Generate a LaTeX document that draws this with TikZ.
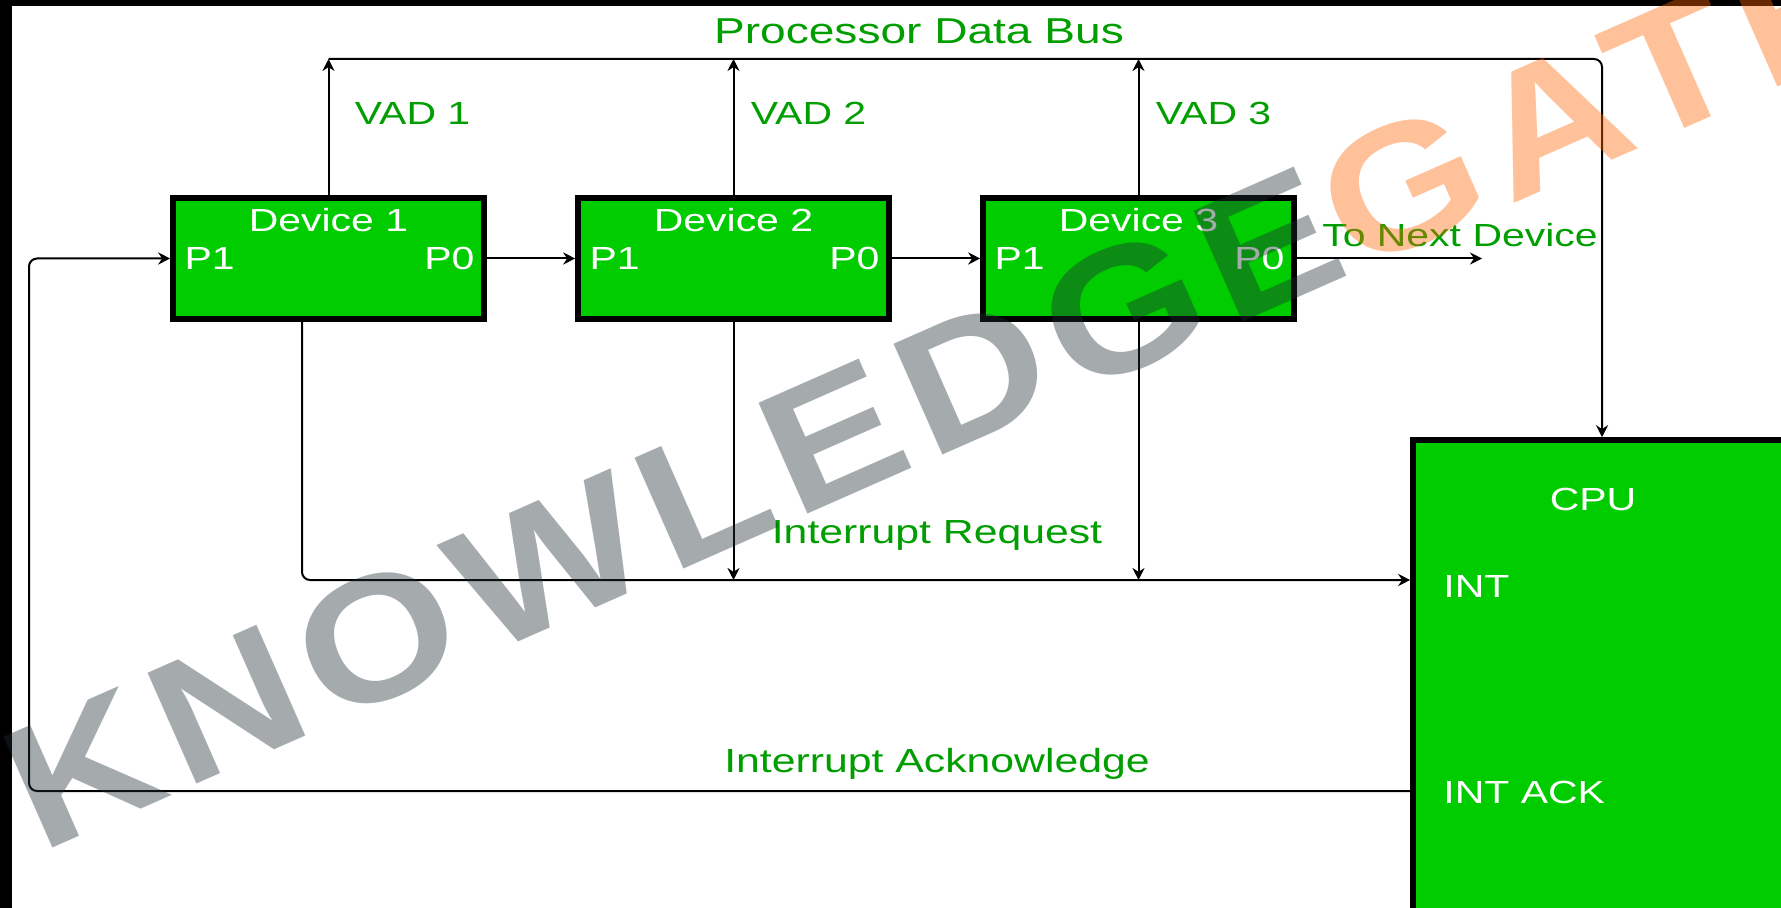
\documentclass[tikz,border=0pt]{standalone}
\usepackage{fontspec}
\setmainfont{Liberation Sans}[FakeStretch=1.28]
\newfontfamily\wmfont{Liberation Sans}[FakeStretch=1.15,LetterSpace=7]
\usetikzlibrary{arrows.meta,positioning,calc}

\definecolor{boxgreen}{RGB}{0,204,0}
\definecolor{lblgreen}{RGB}{0,158,0}
\definecolor{wmgray}{RGB}{30,45,52}
\definecolor{wmorange}{RGB}{255,102,0}

\begin{document}
\begin{tikzpicture}[x=0.5pt, y=-0.5pt,
    devbox/.style={draw=black, line width=2.8pt, fill=boxgreen, inner sep=0pt,
      minimum width=155.5pt, minimum height=60.5pt},
    cpubox/.style={draw=black, line width=2.8pt, fill=boxgreen, inner sep=0pt,
      minimum width=189pt, minimum height=255pt},
    wire/.style={draw=black, line width=1pt, -{Stealth[length=6pt,width=6pt]}},
    lbl/.style={text=lblgreen, inner sep=0pt, font=\fontsize{16}{19}\selectfont},
    biglbl/.style={lbl, font=\fontsize{16.7}{19}\selectfont},
    intxt/.style={text=white, inner sep=0pt, font=\fontsize{16}{19}\selectfont}]
    \useasboundingbox (0,0) rectangle (1781,908);
    \fill[white] (0,0) rectangle (1781,908);
    \fill[black] (0,0) rectangle (12,908);
    \fill[black] (0,0) rectangle (1781,6);

    % devices and cpu
    \node[devbox] (dev1) at (328.5,258.5) {};
    \node[devbox] (dev2) at (733.5,258.5) {};
    \node[devbox] (dev3) at (1138.5,258.5) {};
    \node[cpubox] (cpu) at (1602,695) {};

    \foreach \d in {1,2,3} {
      \node[intxt, anchor=base] (dname\d) at (dev\d.center |- 0,232) {Device \d};
      \node[intxt, anchor=base west] (pin\d) at ($(dev\d.west |- 0,270)+(14,0)$) {P1};
      \node[intxt, anchor=base east] (pout\d) at ($(dev\d.east |- 0,270)+(-12,0)$) {P0};
    }
    \node[intxt, anchor=base] (cpuname) at (1593,510) {CPU};
    \node[intxt, anchor=base west] (int) at (1443,597) {INT};
    \node[intxt, anchor=base west] (intack) at (1443,803) {INT ACK};

    % bus and vector addresses
    \coordinate (bus) at (0,59);
    \draw[wire, rounded corners=4pt] (dev1.north |- bus) -- (cpu.north |- bus) -- (cpu.north);
    \draw[wire] (dev1.north) -- (dev1.north |- bus);
    \draw[wire] (dev2.north) -- (dev2.north |- bus);
    \draw[wire] (dev3.north) -- (dev3.north |- bus);
    \node[lbl, anchor=base, font=\fontsize{18}{21}\selectfont] (busname) at (919,44) {Processor Data Bus};
    \node[lbl, anchor=base west] (vad1) at ($(dev1.north |- 0,125)+(26,0)$) {VAD 1};
    \node[lbl, anchor=base west] (vad2) at ($(dev2.north |- 0,125)+(17,0)$) {VAD 2};
    \node[lbl, anchor=base west] (vad3) at ($(dev3.north |- 0,125)+(17,0)$) {VAD 3};

    % daisy chain
    \coordinate (nxt) at (1482,258.5);
    \draw[wire] (dev1.east) -- (dev2.west);
    \draw[wire] (dev2.east) -- (dev3.west);
    \draw[wire] (dev3.east) -- (nxt);
    \node[lbl, anchor=base] (nxtname) at (1460,247) {To Next Device};

    % interrupt request
    \coordinate (irq) at (0,580);
    \draw[wire, rounded corners=4pt] ($(dev1.south)+(-26.5,0)$) -- ($(dev1.south |- irq)+(-26.5,0)$) -- (cpu.west |- irq);
    \draw[wire] (dev2.south) -- (dev2.south |- irq);
    \draw[wire] (dev3.south) -- (dev3.south |- irq);
    \node[biglbl, anchor=base] (irqname) at (937,543) {Interrupt Request};

    % interrupt acknowledge
    \coordinate (ack) at (0,791);
    \coordinate (lft) at (29,0);
    \draw[wire, rounded corners=4pt] (cpu.west |- ack) -- (lft |- ack) -- (lft |- dev1.west) -- (dev1.west);
    \node[biglbl, anchor=base] (ackname) at (937,772) {Interrupt Acknowledge};

    % watermark
    \node[rotate=23.8, text opacity=0.4, inner sep=0pt,
      font=\wmfont\bfseries\fontsize{88}{90}\selectfont] (wm) at (940,390)
      {\textcolor{wmgray}{KNOWLEDGE}\textcolor{wmorange}{GATE}};
\end{tikzpicture}
\end{document}
